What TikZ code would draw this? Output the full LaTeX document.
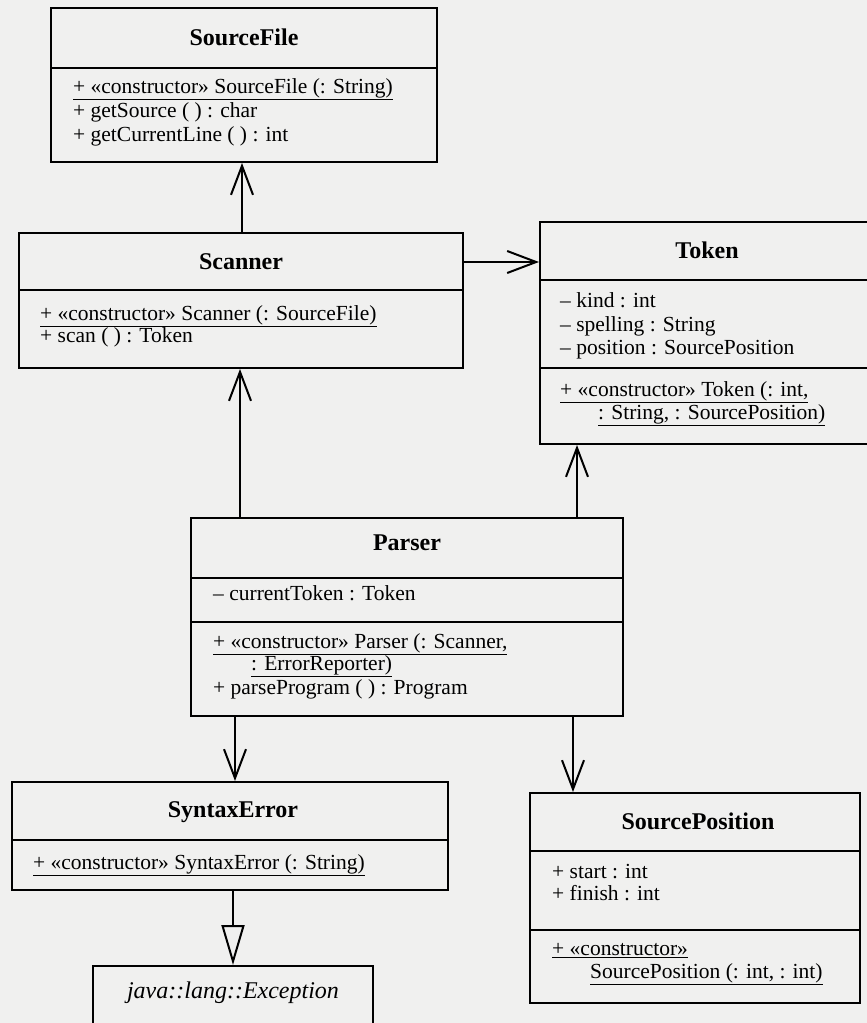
\documentclass[tikz,border=0pt]{standalone}
\usepackage{fontspec}
\setmainfont{Liberation Serif}
\usetikzlibrary{arrows.meta}
\definecolor{paper}{HTML}{F0F0EF}
\begin{document}
\begin{tikzpicture}[x=1pt,y=-1pt,
 box/.style={draw, line width=2pt, inner sep=0pt, fill=paper},
 sep/.style={line width=2pt},
 nm/.style={font=\fontsize{24}{26}\selectfont\bfseries, anchor=center, inner sep=0pt},
 mb/.style={font=\fontsize{21.5}{23}\selectfont, anchor=mid west, inner sep=0pt},
 dep/.style={line width=2pt, -{Straight Barb[length=29pt,width=22pt,line width=2pt]}},
 gen/.style={line width=2pt, -{Triangle[open,length=40pt,width=23pt,line width=2pt,fill=paper]}}
]
\fill[paper] (0,0) rectangle (867,1023);
\useasboundingbox (0,0) rectangle (867,1023);

% SourceFile
\node[box, minimum width=386pt, minimum height=154pt] (sf) at (244,85) {};
\draw[sep] (sf.west |- 0,68) -- (sf.east |- 0,68);
\node[nm] (sfn) at (244,37) {SourceFile};
\node[mb] (sf1) at (73,91) {\underline{+ «constructor» SourceFile (: String)}};
\node[mb] (sf2) at (73,115) {+ getSource ( ) : char};
\node[mb] (sf3) at (73,139) {+ getCurrentLine ( ) : int};

% Scanner
\node[box, minimum width=444pt, minimum height=135pt] (sc) at (241,300.5) {};
\draw[sep] (sc.west |- 0,290) -- (sc.east |- 0,290);
\node[nm] (scn) at (241,262) {Scanner};
\node[mb] (sc1) at (40,318) {\underline{+ «constructor» Scanner (: SourceFile)}};
\node[mb] (sc2) at (40,340) {+ scan ( ) : Token};

% Token
\node[box, minimum width=332pt, minimum height=222pt] (tk) at (706,333) {};
\draw[sep] (tk.west |- 0,280) -- (tk.east |- 0,280);
\draw[sep] (tk.west |- 0,368) -- (tk.east |- 0,368);
\node[nm] (tkn) at (707,250) {Token};
\node[mb] (tk1) at (560,305) {– kind : int};
\node[mb] (tk2) at (560,329) {– spelling : String};
\node[mb] (tk3) at (560,352) {– position : SourcePosition};
\node[mb] (tk4) at (560,394) {\underline{+ «constructor» Token (: int,}};
\node[mb] (tk5) at (598,417) {\underline{: String, : SourcePosition)}};

% Parser
\node[box, minimum width=432pt, minimum height=198pt] (pa) at (407,617) {};
\draw[sep] (pa.west |- 0,578) -- (pa.east |- 0,578);
\draw[sep] (pa.west |- 0,622) -- (pa.east |- 0,622);
\node[nm] (pan) at (407,543) {Parser};
\node[mb] (pa1) at (213,598) {– currentToken : Token};
\node[mb] (pa2) at (213,646) {\underline{+ «constructor» Parser (: Scanner,}};
\node[mb] (pa3) at (251,668) {\underline{: ErrorReporter)}};
\node[mb] (pa4) at (213,692) {+ parseProgram ( ) : Program};

% SyntaxError
\node[box, minimum width=436pt, minimum height=108pt] (se) at (230,836) {};
\draw[sep] (se.west |- 0,840) -- (se.east |- 0,840);
\node[nm] (sen) at (233,812) {SyntaxError};
\node[mb] (se1) at (33,867) {\underline{+ «constructor» SyntaxError (: String)}};

% Exception
\node[box, minimum width=280pt, minimum height=64pt] (ex) at (233,998) {};
\node[font=\fontsize{24}{26}\selectfont\itshape, inner sep=0pt] (exn) at (233,993) {java::lang::Exception};

% SourcePosition
\node[box, minimum width=330pt, minimum height=210pt] (sp) at (695,898) {};
\draw[sep] (sp.west |- 0,851) -- (sp.east |- 0,851);
\draw[sep] (sp.west |- 0,930) -- (sp.east |- 0,930);
\node[nm] (spn) at (698,821) {SourcePosition};
\node[mb] (sp1) at (552,876) {+ start : int};
\node[mb] (sp2) at (552,898) {+ finish : int};
\node[mb] (sp3) at (552,953) {\underline{+ «constructor»}};
\node[mb] (sp4) at (590,976) {\underline{SourcePosition (: int, : int)}};

% connectors
\draw[dep] (sc.north -| 242,0) -- (sf.south -| 242,0);
\draw[dep] (sc.east |- 0,262) -- (tk.west |- 0,262);
\draw[dep] (pa.north -| 240,0) -- (sc.south -| 240,0);
\draw[dep] (pa.north -| 577,0) -- (tk.south -| 577,0);
\draw[dep] (pa.south -| 235,0) -- (se.north -| 235,0);
\draw[dep] (pa.south -| 573,0) -- (sp.north -| 573,0);
\draw[gen] (se.south -| 233,0) -- (ex.north -| 233,0);
\end{tikzpicture}
\end{document}
